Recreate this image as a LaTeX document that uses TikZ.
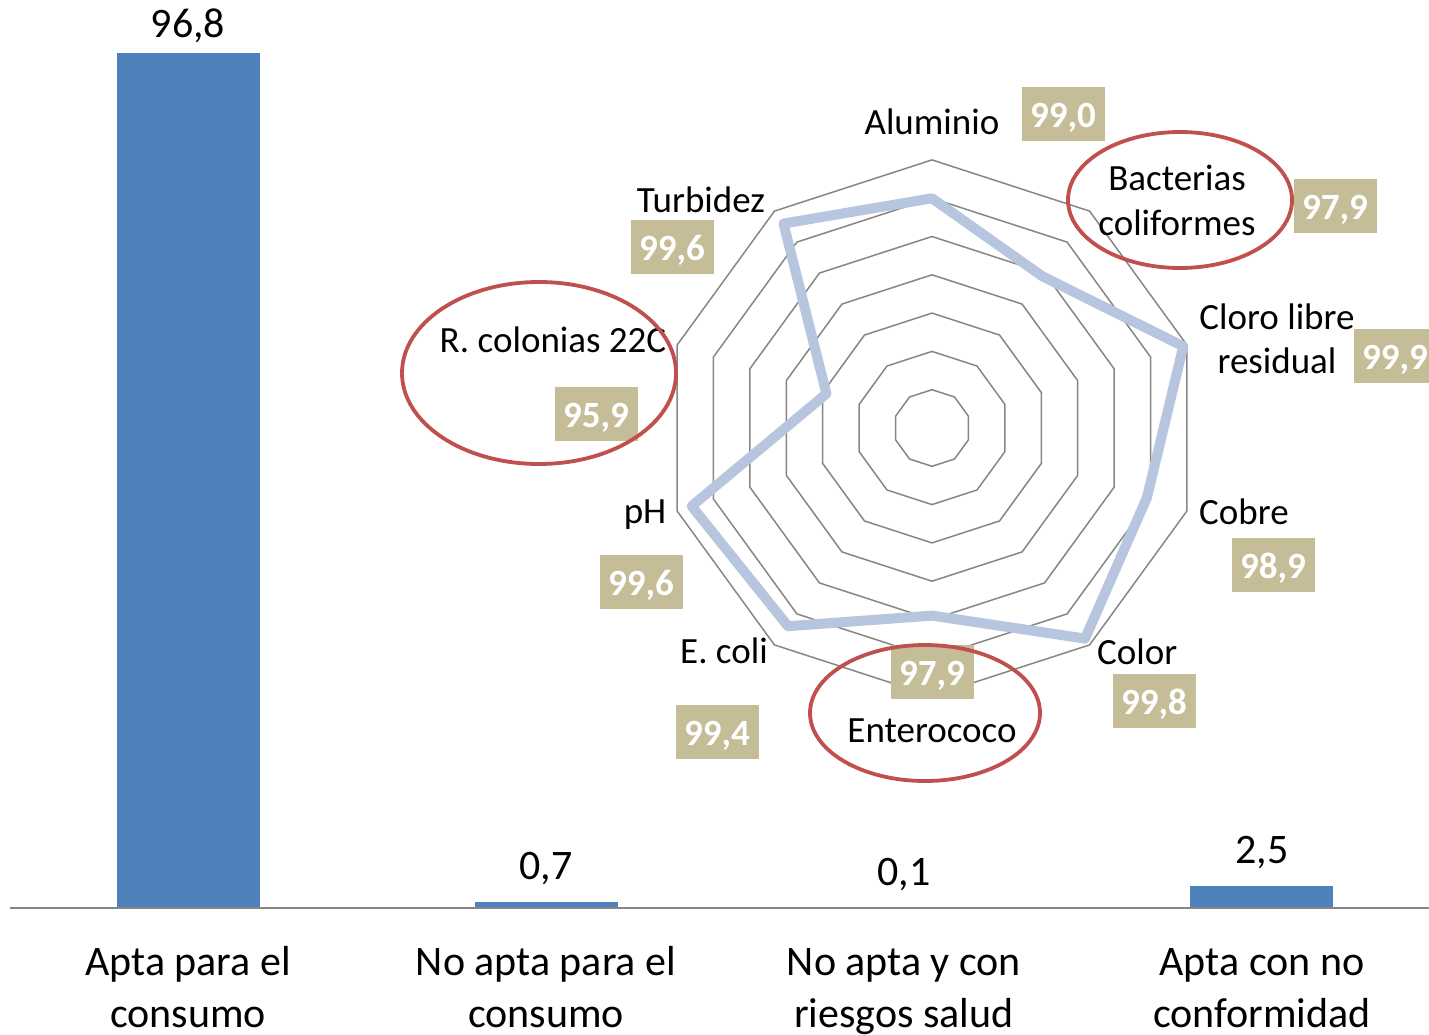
\documentclass[tikz,border=0pt]{standalone}
\usepackage{fontspec}
\setmainfont{Carlito}
\definecolor{barblue}{RGB}{79,129,189}
\definecolor{gridgray}{RGB}{134,134,134}
\definecolor{radarline}{RGB}{184,197,222}
\definecolor{tanbox}{RGB}{196,189,151}
\definecolor{ringred}{RGB}{192,80,77}
\begin{document}
\begin{tikzpicture}[x=1pt,y=1pt,
  bar/.style={fill=barblue},
  barval/.style={font=\fontsize{42}{50}\selectfont, anchor=base, inner sep=0pt},
  catlab/.style={font=\fontsize{42}{50}\selectfont, anchor=base, inner sep=0pt},
  radlab/.style={font=\fontsize{37}{44}\selectfont, anchor=base, inner sep=0pt},
  valbox/.style={fill=tanbox, text=white, font=\fontsize{37}{44}\selectfont\bfseries,
     minimum width=83pt, minimum height=54pt, inner sep=0pt, text height=27pt, text depth=0pt},
  gridline/.style={draw=gridgray, line width=1.5pt},
  dataline/.style={draw=radarline, line width=10pt, line join=round},
  redring/.style={draw=ringred, line width=3.8pt}]
\useasboundingbox (0,0) rectangle (1429,-1035);
\fill[white] (0,0) rectangle (1429,-1035);

% bars
\fill[bar] (117,-908) rectangle (260,-53);
\fill[bar] (475,-908) rectangle (618,-902);
\fill[bar] (833,-908) rectangle (976,-907);
\fill[bar] (1190,-908) rectangle (1333,-886);
\draw[draw=gridgray, line width=2pt] (10,-908) -- (1429,-908);

% bar values
\node[barval] (v1) at (188,-38) {96,8};
\node[barval] (v2) at (546,-879) {0,7};
\node[barval] (v3) at (904,-885) {0,1};
\node[barval] (v4) at (1262,-863) {2,5};

% categories
\node[catlab] (c1a) at (188,-975) {Apta para el};
\node[catlab] (c1b) at (188,-1027) {consumo};
\node[catlab] (c2a) at (546,-975) {No apta para el};
\node[catlab] (c2b) at (546,-1027) {consumo};
\node[catlab] (c3a) at (904,-975) {No apta y con};
\node[catlab] (c3b) at (904,-1027) {riesgos salud};
\node[catlab] (c4a) at (1262,-975) {Apta con no};
\node[catlab] (c4b) at (1262,-1027) {conformidad};

% radar
\begin{scope}[shift={(932,-428)}]
  \foreach \k in {1,...,7}{
    \pgfmathsetmacro{\rr}{\k*38.3}
    \draw[gridline] (90:\rr) \foreach \a in {126,162,...,414}{ -- (\a:\rr)} -- cycle;
  }
  \coordinate (pAl) at (90:229.7);
  \coordinate (pBa) at (54:187.6);
  \coordinate (pCl) at (18:264.2);
  \coordinate (pCb) at (-18:225.9);
  \coordinate (pCo) at (-54:260.3);
  \coordinate (pEn) at (-90:187.6);
  \coordinate (pEc) at (-126:245.0);
  \coordinate (ppH) at (-162:252.7);
  \coordinate (pRc) at (162:111.0);
  \coordinate (pTu) at (126:252.7);
  \draw[dataline] (pAl) -- (pBa) -- (pCl) -- (pCb) -- (pCo) -- (pEn) -- (pEc) -- (ppH) -- (pRc) -- (pTu) -- cycle;
\end{scope}

% radar labels
\node[radlab] (lAl) at (932,-135) {Aluminio};
\node[radlab] (lTu) at (701,-213) {Turbidez};
\node[radlab] (lBa1) at (1177,-190) {Bacterias};
\node[radlab] (lBa2) at (1177,-235) {coliformes};
\node[radlab] (lCl1) at (1277,-329) {Cloro libre};
\node[radlab] (lCl2) at (1277,-373) {residual};
\node[radlab] (lRc) at (553,-352) {R. colonias 22C};
\node[radlab] (lpH) at (645,-523) {pH};
\node[radlab, anchor=base west] (lCb) at (1199,-524) {Cobre};
\node[radlab, anchor=base west] (lCo) at (1097,-664) {Color};
\node[radlab] (lEc) at (724,-663) {E. coli};
\node[radlab] (lEn) at (932,-742) {Enterococo};

% value boxes
\node[valbox] (bAl) at (1063,-114) {99,0};
\node[valbox] (bTu) at (672,-247) {99,6};
\node[valbox] (bBa) at (1335,-206) {97,9};
\node[valbox] (bCl) at (1395,-356) {99,9};
\node[valbox] (bRc) at (596,-414) {95,9};
\node[valbox] (bpH) at (641,-582) {99,6};
\node[valbox] (bCb) at (1273,-565) {98,9};
\node[valbox] (bCo) at (1154,-701) {99,8};
\node[valbox] (bEc) at (717,-732) {99,4};
\node[valbox] (bEn) at (932,-672) {97,9};

% red marks
\draw[redring] (1180,-200) ellipse [x radius=112, y radius=68];
\draw[redring] (539,-373) ellipse [x radius=137, y radius=91];
\draw[redring] (925,-713) ellipse [x radius=115, y radius=68];
\end{tikzpicture}
\end{document}
